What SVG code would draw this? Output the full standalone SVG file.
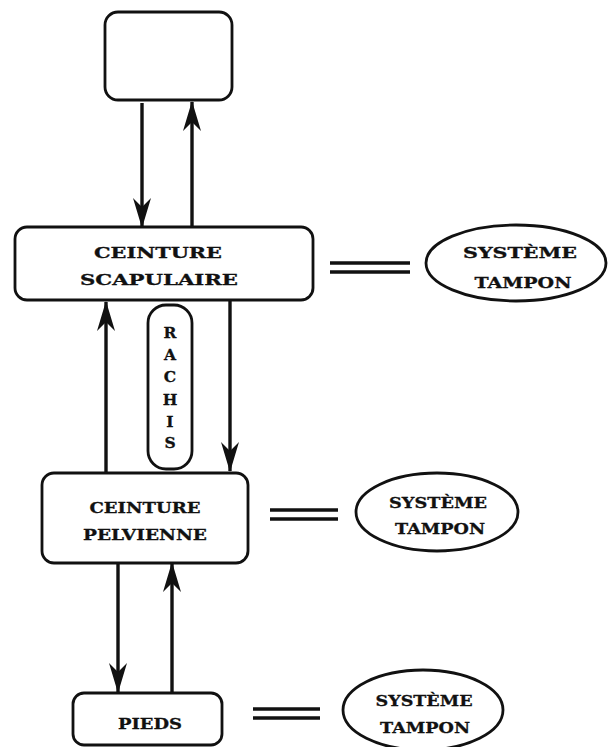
<svg xmlns="http://www.w3.org/2000/svg" width="608" height="747" viewBox="0 0 608 747">
<style>
.box{fill:#fff;stroke:#111;stroke-width:2.8}
.ell{fill:#fff;stroke:#111;stroke-width:2.8}
.t{font-family:"DejaVu Serif","Liberation Serif",serif;font-weight:bold;font-size:15.5px;fill:#111;stroke:#111;stroke-width:0.3;text-anchor:middle}
.c{stroke:#111;stroke-width:3.4;fill:none}
.eq{stroke:#111;stroke-width:3.4}
</style>
<defs>
<marker id="ah" viewBox="0 0 30 18" refX="29" refY="9" markerWidth="30" markerHeight="18" markerUnits="userSpaceOnUse" orient="auto">
<path d="M0,0 L30,9 L0,18 L9,9 Z" fill="#111"/>
</marker>
</defs>
<rect width="608" height="747" fill="#fff"/>
<g id="connectors">
<line class="c" x1="142" y1="103" x2="142" y2="227" marker-end="url(#ah)"/>
<line class="c" x1="192" y1="227" x2="192" y2="102" marker-end="url(#ah)"/>
<line class="c" x1="106" y1="472" x2="106" y2="302" marker-end="url(#ah)"/>
<line class="c" x1="230" y1="301" x2="230" y2="471" marker-end="url(#ah)"/>
<line class="c" x1="118" y1="564" x2="118" y2="692" marker-end="url(#ah)"/>
<line class="c" x1="172" y1="692" x2="172" y2="563" marker-end="url(#ah)"/>
<line class="eq" x1="330" y1="263" x2="410" y2="263"/>
<line class="eq" x1="330" y1="272" x2="410" y2="272"/>
<line class="eq" x1="270" y1="510" x2="338" y2="510"/>
<line class="eq" x1="270" y1="519" x2="338" y2="519"/>
<line class="eq" x1="253" y1="709" x2="320" y2="709"/>
<line class="eq" x1="253" y1="718" x2="320" y2="718"/>
</g>
<g id="top">
<rect class="box" x="105" y="12" width="127" height="88" rx="13"/>
</g>
<g id="scapulaire">
<rect class="box" x="15" y="227" width="298" height="73" rx="12"/>
<text class="t" x="158" y="258" textLength="128" lengthAdjust="spacingAndGlyphs">CEINTURE</text>
<text class="t" x="159" y="285" textLength="158" lengthAdjust="spacingAndGlyphs">SCAPULAIRE</text>
</g>
<g id="rachis">
<rect class="box" x="148" y="305" width="44" height="164" rx="18"/>
<text class="t" x="170" y="338">R</text>
<text class="t" x="170" y="360">A</text>
<text class="t" x="170" y="382">C</text>
<text class="t" x="170" y="405">H</text>
<text class="t" x="170" y="427">I</text>
<text class="t" x="170" y="448">S</text>
</g>
<g id="pelvienne">
<rect class="box" x="42" y="473" width="206" height="90" rx="12"/>
<text class="t" x="145" y="513" textLength="111" lengthAdjust="spacingAndGlyphs">CEINTURE</text>
<text class="t" x="145" y="540" textLength="124" lengthAdjust="spacingAndGlyphs">PELVIENNE</text>
</g>
<g id="pieds">
<rect class="box" x="73" y="693" width="149" height="52" rx="11"/>
<text class="t" x="150" y="729" textLength="64" lengthAdjust="spacingAndGlyphs">PIEDS</text>
</g>
<g id="tampon1">
<ellipse class="ell" cx="516" cy="263" rx="90" ry="38"/>
<text class="t" x="520" y="258" textLength="114" lengthAdjust="spacingAndGlyphs">SYSTÈME</text>
<text class="t" x="523" y="288" textLength="97" lengthAdjust="spacingAndGlyphs">TAMPON</text>
</g>
<g id="tampon2">
<ellipse class="ell" cx="437" cy="512" rx="81" ry="39"/>
<text class="t" x="438" y="508" textLength="98" lengthAdjust="spacingAndGlyphs">SYSTÈME</text>
<text class="t" x="440" y="534" textLength="90" lengthAdjust="spacingAndGlyphs">TAMPON</text>
</g>
<g id="tampon3">
<ellipse class="ell" cx="423" cy="710" rx="80" ry="40"/>
<text class="t" x="424" y="706" textLength="97" lengthAdjust="spacingAndGlyphs">SYSTÈME</text>
<text class="t" x="425" y="733" textLength="90" lengthAdjust="spacingAndGlyphs">TAMPON</text>
</g>
</svg>
